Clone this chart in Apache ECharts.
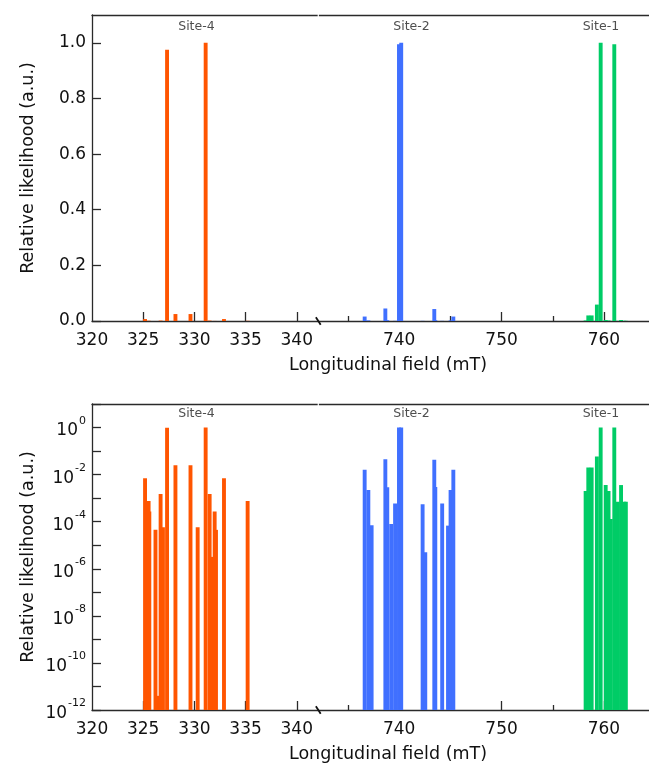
<!DOCTYPE html>
<html><head><meta charset="utf-8">
<script src="https://cdn.jsdelivr.net/npm/echarts@6/dist/echarts.min.js"></script>
<style>html,body{margin:0;padding:0;background:#fff}#c{width:649px;height:772px}</style>
</head><body><div id="c"></div>
<script>
// ---- data (field in mT, relative likelihood) ----
const site4Field = [325.18, 325.60, 325.53, 326.45, 326.20, 326.93, 326.70, 327.33, 328.15, 329.62, 330.32, 331.10, 331.72, 331.49, 332.11, 331.98, 332.89, 335.20];
const site4Value = [7e-3, 2.7e-4, 7.6e-4, 4e-12, 4.5e-5, 5.8e-5, 1.5e-3, 0.975, 0.025, 0.025, 5.8e-5, 1.0, 3.2e-6, 1.5e-3, 4.5e-5, 2.7e-4, 7e-3, 7.6e-4];
const site2Field = [736.63, 736.99, 737.31, 738.65, 738.84, 739.22, 739.60, 739.98, 740.20, 742.29, 742.55, 743.53, 743.43, 744.20, 744.77, 745.02, 745.29];
const site2Value = [0.016, 2.2e-3, 7e-5, 0.045, 2.9e-3, 8e-5, 6e-4, 0.995, 1.0, 5.5e-4, 5e-6, 3e-3, 0.043, 6e-4, 6.8e-5, 2.2e-3, 0.016];
const site1Field = [758.21, 758.47, 758.80, 759.31, 759.68, 760.17, 760.45, 760.67, 761.01, 761.35, 761.67, 761.98, 762.14];
const site1Value = [2.0e-3, 0.02, 0.02, 0.059, 1.0, 3.6e-3, 2.0e-3, 1.3e-4, 0.995, 7e-4, 3.6e-3, 7e-4, 7e-4];
const siteNames = ['Site-4', 'Site-2', 'Site-1'];
const siteLabelField = [330.2, 741.2, 759.7];
const xTickLabels = [320, 325, 330, 335, 340, 740, 750, 760];
const xMajorTicks = [325, 330, 335, 340, 740, 750, 760];
const xMinorTicks = [735, 745, 755];
const yLinearTicks = [0, 0.2, 0.4, 0.6, 0.8, 1.0];

// ---- broken axis mapping ----
const FIELD_OFFSET = 390;      // right segment (7xx mT) drawn after the break
const BREAK_AT = 342.1;
const X_MIN = 320, X_MAX = 374.4;
const BAR_HALF = 0.19;
function toAxis(f) { return f > 500 ? f - FIELD_OFFSET : f; }
function fromAxis(a) { return a > BREAK_AT ? a + FIELD_OFFSET : a; }

const FONT = 'DejaVu Sans';
const AXC = '#2a2a2a';
const colors = ['#FF5500', '#4070FF', '#00CC66'];
const sites = [[site4Field, site4Value], [site2Field, site2Value], [site1Field, site1Value]];

function barRender(logMode) {
  return function (params, api) {
    const x = api.value(0), v = api.value(1);
    const base = logMode ? 1e-12 : 0;
    const p0 = api.coord([x - BAR_HALF, v]);
    const p1 = api.coord([x + BAR_HALF, base]);
    const cs = params.coordSys;
    const r = echarts.graphic.clipRectByRect(
      { x: p0[0], y: p0[1], width: p1[0] - p0[0], height: p1[1] - p0[1] },
      { x: cs.x, y: cs.y, width: cs.width, height: cs.height });
    if (!r) return null;
    return { type: 'rect', shape: r, style: { fill: api.visual('color') } };
  };
}

const grids = [
  { left: 92, top: 15, width: 557, height: 306 },
  { left: 92, top: 404, width: 557, height: 306 }
];

const xAxes = [], yAxes = [], series = [];
for (let g = 0; g < 2; g++) {
  xAxes.push({
    gridIndex: g, type: 'value', position: 'bottom', min: X_MIN, max: X_MAX,
    axisLine: { show: true, lineStyle: { color: AXC, width: 1.3 } },
    axisTick: { show: true, inside: true, length: 9, lineStyle: { color: AXC, width: 1.3 }, customValues: xMajorTicks.map(toAxis) },
    axisLabel: { show: true, margin: 11, fontFamily: FONT, fontSize: 17, color: '#111',
      customValues: xTickLabels.map(toAxis),
      formatter: v => String(Math.round(fromAxis(v))) },
    splitLine: { show: false }
  });
  xAxes.push({
    gridIndex: g, type: 'value', position: 'bottom', min: X_MIN, max: X_MAX,
    axisLine: { show: false },
    axisTick: { show: true, inside: true, length: 5, lineStyle: { color: AXC, width: 1.3 }, customValues: xMinorTicks.map(toAxis) },
    axisLabel: { show: false }, splitLine: { show: false }
  });
  xAxes.push({
    gridIndex: g, type: 'value', position: 'top', min: X_MIN, max: X_MAX,
    axisLine: { show: true, lineStyle: { color: AXC, width: 1.3 } },
    axisTick: { show: false }, axisLabel: { show: false }, splitLine: { show: false }
  });
}
yAxes.push({
  gridIndex: 0, type: 'value', min: 0, max: 1.1,
  axisLine: { show: true, lineStyle: { color: AXC, width: 1.3 } },
  axisTick: { show: true, inside: true, length: 9, lineStyle: { color: AXC, width: 1.3 }, customValues: yLinearTicks },
  axisLabel: { margin: 6, fontFamily: FONT, fontSize: 17, color: '#111', customValues: yLinearTicks, formatter: v => v.toFixed(1) },
  splitLine: { show: false }
});
yAxes.push({
  gridIndex: 1, type: 'log', logBase: 10, min: 1e-12, max: 10, interval: 1,
  axisLine: { show: true, lineStyle: { color: AXC, width: 1.3 } },
  axisTick: { show: true, inside: true, length: 9, lineStyle: { color: AXC, width: 1.3 } },
  axisLabel: {
    margin: 6, color: '#111',
    formatter: v => {
      const e = Math.round(Math.log10(v));
      if (e > 0 || e % 2 !== 0) return '';
      return '{b|10}{s|' + e + '}';
    },
    rich: {
      b: { fontFamily: FONT, fontSize: 17, color: '#111', lineHeight: 24, verticalAlign: 'bottom' },
      s: { fontFamily: FONT, fontSize: 11, color: '#111', lineHeight: 24, verticalAlign: 'top', padding: [0, 0, 0, 1] }
    }
  },
  splitLine: { show: false }
});

for (let g = 0; g < 2; g++) {
  sites.forEach((s, i) => {
    series.push({
      type: 'custom', xAxisIndex: g * 3, yAxisIndex: g, clip: true,
      itemStyle: { color: colors[i] },
      renderItem: barRender(g === 1),
      data: s[0].map((f, k) => [toAxis(f), s[1][k]])
    });
  });
  series.push({
    type: 'scatter', xAxisIndex: g * 3, yAxisIndex: g, symbolSize: 0, silent: true,
    label: { show: true, position: 'inside', formatter: p => siteNames[p.dataIndex], fontFamily: FONT, fontSize: 12.5, color: '#222' },
    data: siteLabelField.map(f => [toAxis(f), g === 0 ? 1.058 : 4.0])
  });
}

const chart = echarts.init(document.getElementById('c'), null, { renderer: 'canvas' });
chart.setOption({
  animation: false,
  backgroundColor: '#fff',
  grid: grids,
  xAxis: xAxes,
  yAxis: yAxes,
  series: series
});

// break marks + axis titles
const gfx = [];
for (let g = 0; g < 2; g++) {
  const bottom = chart.convertToPixel({ xAxisIndex: g * 3, yAxisIndex: g }, [BREAK_AT, g === 0 ? 0 : 1e-12]);
  const top = chart.convertToPixel({ xAxisIndex: g * 3, yAxisIndex: g }, [BREAK_AT, g === 0 ? 1.1 : 10]);
  gfx.push({ type: 'line', shape: { x1: top[0], y1: top[1] - 2, x2: top[0], y2: top[1] + 2 }, style: { stroke: '#fff', lineWidth: 1.2 }, z: 100 });
  gfx.push({ type: 'line', shape: { x1: bottom[0] - 2.4, y1: bottom[1] - 3.8, x2: bottom[0] + 2.4, y2: bottom[1] + 3.8 }, style: { stroke: '#111', lineWidth: 1.8 }, z: 100 });
  const gy = grids[g].top, gh = grids[g].height;
  gfx.push({ type: 'text', x: 28, y: gy + gh / 2, rotation: Math.PI / 2,
    style: { text: 'Relative likelihood (a.u.)', font: '17.5px "DejaVu Sans"', fill: '#111', align: 'center', verticalAlign: 'middle' } });
  gfx.push({ type: 'text', x: 388, y: gy + gh + 44,
    style: { text: 'Longitudinal field (mT)', font: '17.5px "DejaVu Sans"', fill: '#111', align: 'center', verticalAlign: 'middle' } });
}
chart.setOption({ graphic: gfx });
</script>
</body></html>
